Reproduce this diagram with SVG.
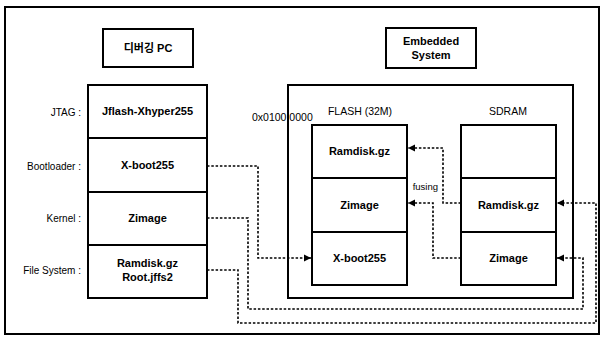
<svg xmlns="http://www.w3.org/2000/svg" width="604" height="338" viewBox="0 0 604 338">
<style>
.box{fill:#fff;stroke:#000;stroke-width:2}
.frame{fill:none;stroke:#000;stroke-width:2}
.t{font-family:"Liberation Sans",Arial,"Noto Sans CJK KR",sans-serif;font-size:11px;font-weight:bold;text-anchor:middle;fill:#000}
.l{font-family:"Liberation Sans",Arial,sans-serif;font-size:10px;text-anchor:end;fill:#000}
.c{font-family:"Liberation Sans",Arial,sans-serif;font-size:10.5px;text-anchor:middle;fill:#000}
.d{fill:none;stroke:#000;stroke-width:1.6;stroke-dasharray:2.5 1.8}
</style>
<defs>
<marker id="ah" markerWidth="8" markerHeight="8" refX="7" refY="4" orient="auto" markerUnits="userSpaceOnUse">
<path d="M0,0.5 L7,4 L0,7.5 Z" fill="#000"/>
</marker>
</defs>
<rect width="604" height="338" fill="#fff"/>
<rect x="5" y="7" width="594" height="327" class="frame"/>

<g id="pc-title">
<rect x="103" y="29" width="90" height="38" class="box"/>
<text x="148" y="52" class="t" font-size="12">디버깅 PC</text>
</g>
<g id="es-title">
<rect x="386" y="28" width="90" height="40" class="box"/>
<text x="431" y="45" class="t">Embedded</text>
<text x="431" y="59" class="t">System</text>
</g>

<g id="labels">
<text x="81" y="116" class="l">JTAG :</text>
<text x="81" y="170" class="l">Bootloader :</text>
<text x="81" y="222" class="l">Kernel :</text>
<text x="81" y="274" class="l">File System :</text>
</g>

<g id="pc-jtag"><rect x="88" y="85" width="119" height="53" class="box"/><text x="147.5" y="115" class="t">Jflash-Xhyper255</text></g>
<g id="pc-boot"><rect x="88" y="138" width="119" height="54" class="box"/><text x="147.5" y="169" class="t">X-boot255</text></g>
<g id="pc-kernel"><rect x="88" y="192" width="119" height="53" class="box"/><text x="147.5" y="222" class="t">Zimage</text></g>
<g id="pc-fs"><rect x="88" y="245" width="119" height="53" class="box"/><text x="147.5" y="267" class="t">Ramdisk.gz</text><text x="147.5" y="281" class="t">Root.jffs2</text></g>

<g id="embedded">
<rect x="288" y="85" width="285" height="213" class="frame"/>
</g>
<text x="252" y="121" class="c" style="text-anchor:start">0x0100 0000</text>
<text x="360" y="115" class="c">FLASH (32M)</text>
<text x="508" y="115" class="c">SDRAM</text>

<g id="flash-ramdisk"><rect x="312" y="125" width="95" height="53" class="box"/><text x="359.5" y="155" class="t">Ramdisk.gz</text></g>
<g id="flash-zimage"><rect x="312" y="178" width="95" height="54" class="box"/><text x="359.5" y="209" class="t">Zimage</text></g>
<g id="flash-xboot"><rect x="312" y="232" width="95" height="53" class="box"/><text x="359.5" y="262" class="t">X-boot255</text></g>

<g id="sdram-empty"><rect x="461" y="125" width="95" height="53" class="box"/></g>
<g id="sdram-ramdisk"><rect x="461" y="178" width="95" height="54" class="box"/><text x="508.5" y="209" class="t">Ramdisk.gz</text></g>
<g id="sdram-zimage"><rect x="461" y="232" width="95" height="53" class="box"/><text x="508.5" y="262" class="t">Zimage</text></g>

<g id="connectors">
<polyline class="d" points="207,166 258,166 258,258 311,258" marker-end="url(#ah)"/>
<polyline class="d" points="207,218 248,218 248,309 583,309 583,258 557,258" marker-end="url(#ah)"/>
<polyline class="d" points="207,270 238,270 238,323 596,323 596,203 557,203" marker-end="url(#ah)"/>
<polyline class="d" points="461,203 443,203 443,148 408,148" marker-end="url(#ah)"/>
<polyline class="d" points="461,258 433,258 433,203 408,203" marker-end="url(#ah)"/>
</g>
<text x="438" y="190" class="l" style="font-size:9.5px">fusing</text>
</svg>
